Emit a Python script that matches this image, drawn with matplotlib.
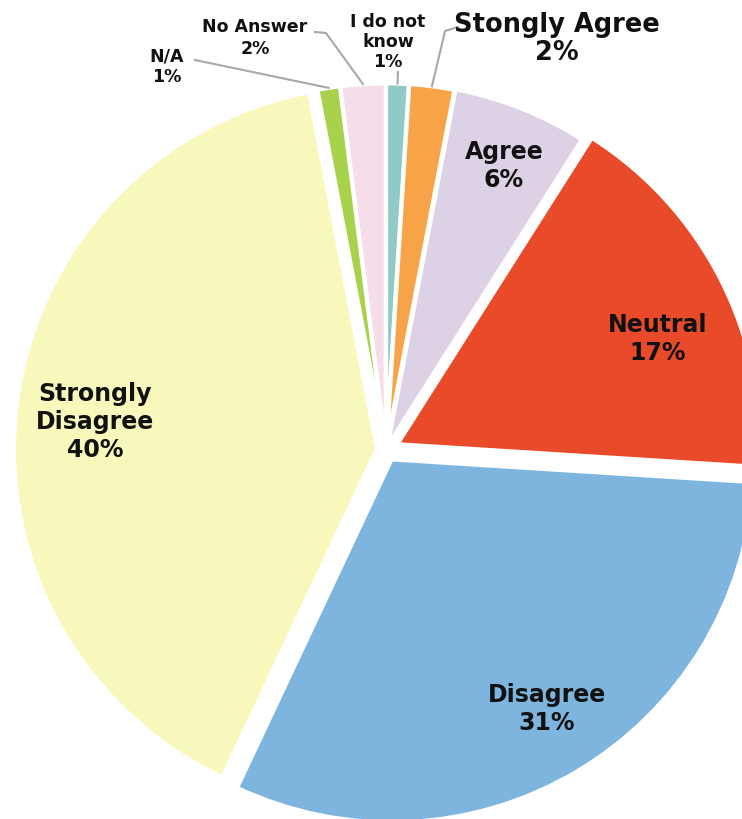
import numpy as np
import matplotlib.pyplot as plt

labels = ['I do not\nknow', 'Stongly Agree', 'Agree', 'Neutral', 'Disagree',
          'Strongly\nDisagree', 'N/A', 'No Answer']
values = [1, 2, 6, 17, 31, 40, 1, 2]
colors = ['#8fcac6', '#f7a448', '#ddd1e6', '#e94a2a', '#7db5de',
          '#f8f8bc', '#a9d24c', '#f5dde9']
explode = [0.01, 0.01, 0.012, 0.035, 0.03, 0.025, 0.01, 0.01]

W, H = 742, 819
cx, cy, R = 386, 450, 363  # pie centre / radius in pixels

def px(x, y):
    # pixel (from top-left) -> data units (pie radius = 1)
    return (x - cx) / R, (cy - y) / R

fig = plt.figure(figsize=(W / 100, H / 100), dpi=100)
ax = fig.add_axes([0, 0, 1, 1])
wedges, _ = ax.pie(values, colors=colors, explode=explode, startangle=90,
                   counterclock=False, radius=1,
                   wedgeprops=dict(edgecolor='white', linewidth=3))
ax.set_xlim(px(0, 0)[0], px(W, 0)[0])
ax.set_ylim(px(0, H)[1], px(0, 0)[1])
ax.set_aspect('equal')
ax.axis('off')

# labels inside the big slices
inside = {
    2: (504, 166, 17),
    3: (658, 339, 17),
    4: (547, 709, 17),
    5: (95, 422, 17),
}
for i, (x, y, fs) in inside.items():
    ax.text(*px(x, y), f'{labels[i]}\n{values[i]}%', ha='center', va='center',
            fontsize=fs, fontweight='bold', linespacing=1.22, color='#111111')

# labels above the small slices, with leader lines
outside = {
    0: (388, 42, 12.5, 1.12),
    1: (557, 39, 18.5, 1.1),
    6: (167, 67, 12.5, 1.2),
    7: (255, 38, 12.5, 1.22),
}
leaders = {
    0: [(398, 72)],
    1: [(458, 27), (445, 31)],
    6: [(195, 60)],
    7: [(315, 32), (326, 33)],
}
for i, (x, y, fs, ls) in outside.items():
    w = wedges[i]
    th = np.deg2rad((w.theta1 + w.theta2) / 2)
    ox, oy = w.center
    tip = (ox + w.r * np.cos(th), oy + w.r * np.sin(th))
    ax.text(*px(x, y), f'{labels[i]}\n{values[i]}%', ha='center', va='center',
            fontsize=fs, fontweight='bold', linespacing=ls, color='#111111')
    pts = [px(*p) for p in leaders[i]] + [tip]
    xs, ys = zip(*pts)
    ax.plot(xs, ys, color='#a8a8a8', lw=1.5)

fig.savefig('out.png', dpi=100)
